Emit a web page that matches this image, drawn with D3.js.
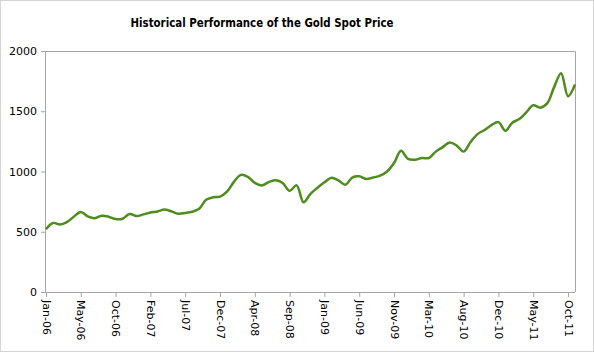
<!DOCTYPE html>
<html>
<head>
<meta charset="utf-8">
<script src="https://cdn.jsdelivr.net/npm/d3@7"></script>
<style>
  body { margin: 0; background: #fff; }
  text { font-family: "DejaVu Sans", Verdana, sans-serif; fill: #000; }
</style>
</head>
<body>
<div id="chart"></div>
<script>
// gold spot price, one point per period
const prices = [
  520, 573, 560, 580, 625, 664, 628, 612, 633, 625,
  605, 608, 648, 630, 644, 660, 668, 684, 670, 650,
  656, 666, 690, 765, 786, 792, 833, 914, 972, 955,
  905, 884, 912, 927, 905, 840, 885, 745, 815, 865,
  910, 948, 927, 890, 950, 960, 938, 950, 965, 1000,
  1070, 1172, 1105, 1098, 1112, 1112, 1165, 1202, 1240, 1215,
  1165, 1245, 1310, 1345, 1385, 1410, 1338, 1405, 1435, 1490,
  1550, 1530, 1565, 1700, 1815, 1625, 1722
];

const tickLabels = [
  'Jan-06', 'May-06', 'Oct-06', 'Feb-07', 'Jul-07', 'Dec-07', 'Apr-08', 'Sep-08',
  'Jan-09', 'Jun-09', 'Nov-09', 'Mar-10', 'Aug-10', 'Dec-10', 'May-11', 'Oct-11'
];
const tickEvery = 5;
const yTicks = [0, 500, 1000, 1500, 2000];

const drawChart = () => {
  let width = 594;
  let height = 352;
  let margin = { top: 51, right: 19, bottom: 60, left: 46 };
  let chartWidth = width - margin.left - margin.right;
  let chartHeight = height - margin.top - margin.bottom;

  let root = d3
    .select('#chart')
    .append('svg')
    .attr('width', width)
    .attr('height', height);

  // outer chart border
  root
    .append('rect')
    .attr('x', 0.5)
    .attr('y', 0.5)
    .attr('width', width - 1)
    .attr('height', height - 1)
    .attr('fill', 'none')
    .attr('stroke', '#d4d4d4');

  root
    .append('text')
    .attr('x', 262)
    .attr('y', 27)
    .attr('text-anchor', 'middle')
    .attr('font-size', '13px')
    .attr('font-weight', 'bold')
    .attr('textLength', 263)
    .attr('lengthAdjust', 'spacingAndGlyphs')
    .text('Historical Performance of the Gold Spot Price');

  let svg = root
    .append('g')
    .attr('transform', `translate(${margin.left},${margin.top})`);

  // Scales
  let xPositionScale = d3
    .scaleLinear()
    .domain([0, prices.length - 1])
    .range([0, chartWidth]);
  let yPositionScale = d3.scaleLinear().domain([0, 2000]).range([chartHeight, 0]);

  // plot area frame (top and right)
  svg
    .append('path')
    .attr('d', `M0,0.5H${chartWidth + 0.5}V${chartHeight}`)
    .attr('fill', 'none')
    .attr('stroke', '#a6a6a6');

  // Axes
  let yAxis = svg
    .append('g')
    .attr('class', 'axis y-axis')
    .call(
      d3
        .axisLeft(yPositionScale)
        .tickValues(yTicks)
        .tickFormat(d3.format('d'))
        .tickSize(5)
        .tickPadding(4)
    );

  let xAxis = svg
    .append('g')
    .attr('class', 'axis x-axis')
    .attr('transform', `translate(0,${chartHeight})`)
    .call(
      d3
        .axisBottom(xPositionScale)
        .tickValues(tickLabels.map((d, i) => i * tickEvery))
        .tickFormat((d) => tickLabels[d / tickEvery])
        .tickSize(5)
    );

  svg.selectAll('.axis .domain').attr('stroke', '#a6a6a6');
  svg.selectAll('.axis .tick line').attr('stroke', '#a6a6a6');
  svg.selectAll('.axis text').attr('font-size', '11px').attr('fill', '#000');
  yAxis.select('.domain').attr('d', `M-0.5,0V${chartHeight}`);
  xAxis.select('.domain').attr('d', `M0,0.5H${chartWidth}`);

  xAxis
    .selectAll('text')
    .attr('transform', 'rotate(90)')
    .attr('x', 8)
    .attr('y', 0)
    .attr('dy', '0.35em')
    .style('text-anchor', 'start');

  let line = d3
    .line()
    .x((d, i) => xPositionScale(i))
    .y((d) => yPositionScale(d))
    .curve(d3.curveCatmullRom.alpha(0.5));

  svg
    .append('path')
    .datum(prices)
    .attr('fill', 'none')
    .attr('stroke', '#4f8c1e')
    .attr('stroke-width', 2.5)
    .attr('stroke-linejoin', 'round')
    .attr('d', line);
};

drawChart();
</script>
</body>
</html>
